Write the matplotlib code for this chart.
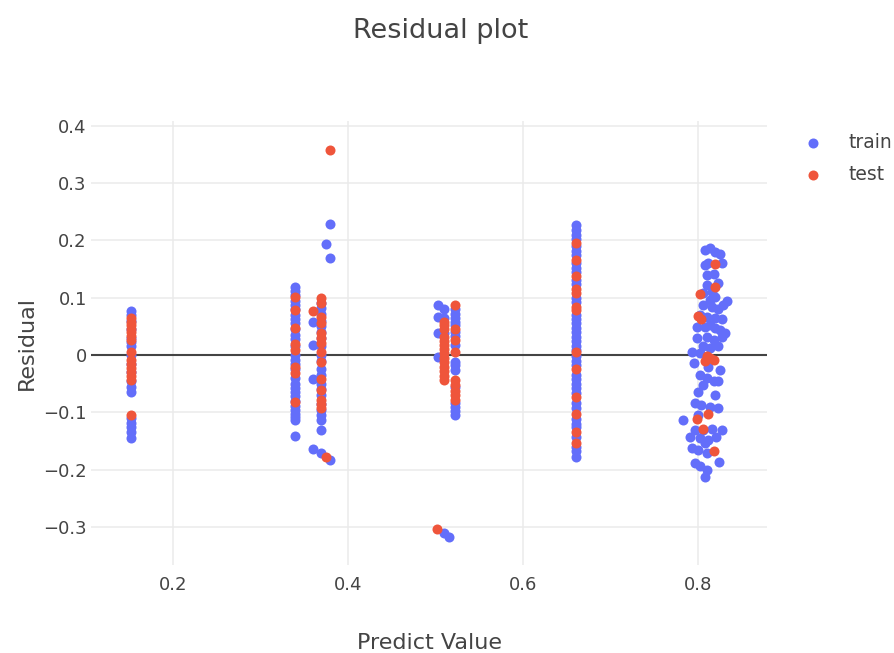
import matplotlib
matplotlib.use("Agg")
import matplotlib.pyplot as plt

# ---------------- data ----------------
# train residuals, grouped by predicted value
train_a_x = 0.152
train_a_y = [0.077, 0.070, 0.060, 0.045, 0.030, 0.022, 0.015, 0.000, -0.015, -0.030,
             -0.045, -0.055, -0.064, -0.110, -0.118, -0.126, -0.134, -0.145]
train_b1_x = 0.340
train_b1_y = [0.119, 0.112, 0.105, 0.095, 0.088, 0.080, 0.070, 0.062, 0.055, 0.045,
              0.035, 0.028, 0.015, 0.000, -0.008, -0.015, -0.025, -0.040, -0.050, -0.058,
              -0.065, -0.072, -0.080, -0.088, -0.095, -0.102, -0.108, -0.113, -0.141]
train_b2_x = 0.369
train_b2_y = [0.090, 0.082, 0.072, 0.060, 0.050, 0.040, 0.030, 0.015, 0.000, -0.010,
              -0.025, -0.035, -0.050, -0.060, -0.070, -0.085, -0.095, -0.105, -0.113,
              -0.131, -0.170]
train_misc_x = [0.360, 0.360, 0.360, 0.360, 0.380, 0.3745, 0.380, 0.380,
                0.503, 0.503, 0.503, 0.503, 0.510, 0.510, 0.510, 0.510, 0.515]
train_misc_y = [0.057, 0.017, -0.042, -0.163, 0.228, 0.193, 0.169, -0.183,
                0.087, 0.067, 0.038, -0.003, 0.081, 0.064, 0.038, -0.311, -0.317]
train_c_x = 0.522
train_c_y = [0.080, 0.072, 0.065, 0.058, 0.052, 0.040, 0.034, 0.018, -0.012, -0.018,
             -0.026, -0.055, -0.084, -0.090, -0.097, -0.105]
train_d_x = 0.661
train_d_y = [0.227, 0.218, 0.210, 0.202, 0.190, 0.182, 0.174, 0.160, 0.152, 0.145,
             0.130, 0.124, 0.100, 0.092, 0.070, 0.062, 0.055, 0.047, 0.040, 0.032,
             0.024, 0.016, 0.008, -0.002, -0.010, -0.018, -0.034, -0.042, -0.050,
             -0.058, -0.066, -0.084, -0.092, -0.112, -0.120, -0.126, -0.142, -0.160,
             -0.168, -0.177]
train_e_x = [0.808, 0.814, 0.819, 0.825, 0.808, 0.812, 0.827, 0.810, 0.818, 0.810,
             0.823, 0.806, 0.816, 0.819, 0.814, 0.833, 0.806, 0.816, 0.823, 0.829,
             0.802, 0.810, 0.819, 0.827, 0.799, 0.808, 0.814, 0.819, 0.825, 0.831,
             0.799, 0.810, 0.818, 0.827, 0.806, 0.814, 0.823, 0.793, 0.802, 0.795,
             0.812, 0.825, 0.802, 0.810, 0.818, 0.823, 0.806, 0.800, 0.819, 0.797,
             0.804, 0.814, 0.823, 0.783, 0.800, 0.797, 0.806, 0.816, 0.827, 0.791,
             0.802, 0.812, 0.821, 0.793, 0.808, 0.800, 0.810, 0.824, 0.797, 0.802,
             0.810, 0.808]
train_e_y = [0.183, 0.186, 0.180, 0.176, 0.157, 0.160, 0.161, 0.140, 0.142, 0.122,
             0.125, 0.108, 0.110, 0.102, 0.096, 0.095, 0.087, 0.084, 0.081, 0.087,
             0.070, 0.067, 0.064, 0.062, 0.049, 0.049, 0.052, 0.047, 0.044, 0.038,
             0.029, 0.032, 0.026, 0.032, 0.015, 0.012, 0.015, 0.006, 0.003, -0.014,
             -0.020, -0.026, -0.035, -0.040, -0.046, -0.046, -0.052, -0.064, -0.070,
             -0.084, -0.087, -0.090, -0.093, -0.114, -0.104, -0.131, -0.131, -0.129,
             -0.131, -0.142, -0.145, -0.148, -0.142, -0.162, -0.154, -0.165, -0.171,
             -0.186, -0.189, -0.194, -0.200, -0.212]

# test residuals
test_a_x = 0.152
test_a_y = [0.064, 0.058, 0.052, 0.046, 0.040, 0.034, 0.026, 0.005, -0.009, -0.015,
            -0.022, -0.029, -0.036, -0.044, -0.105]
test_b1_x = 0.340
test_b1_y = [0.102, 0.078, 0.048, 0.020, 0.009, -0.020, -0.032, -0.081]
test_b2_x = 0.369
test_b2_y = [0.100, 0.090, 0.067, 0.055, 0.039, 0.030, 0.021, 0.005, -0.012, -0.041,
             -0.061, -0.078, -0.085, -0.092]
test_misc_x = [0.360, 0.380, 0.3745, 0.502]
test_misc_y = [0.077, 0.357, -0.177, -0.304]
test_c1_x = 0.510
test_c1_y = [0.058, 0.052, 0.046, 0.032, 0.025, 0.018, 0.010, 0.003, -0.005, -0.012,
             -0.020, -0.028, -0.036, -0.044]
test_c2_x = 0.522
test_c2_y = [0.087, 0.046, 0.026, 0.006, -0.044, -0.052, -0.062, -0.070, -0.078]
test_d_x = 0.661
test_d_y = [0.196, 0.166, 0.137, 0.116, 0.108, 0.084, 0.078, 0.006, -0.024, -0.074,
            -0.103, -0.134, -0.153]
test_e_x = [0.819, 0.819, 0.802, 0.800, 0.804, 0.810, 0.814, 0.818, 0.808, 0.811,
            0.799, 0.806, 0.818]
test_e_y = [0.159, 0.118, 0.106, 0.068, 0.062, -0.002, -0.006, -0.008, -0.010, -0.102,
            -0.112, -0.129, -0.168]

x_ticks = [0.2, 0.4, 0.6, 0.8]
x_tick_labels = ["0.2", "0.4", "0.6", "0.8"]
y_ticks = [-0.3, -0.2, -0.1, 0.0, 0.1, 0.2, 0.3, 0.4]
y_tick_labels = ["\u22120.3", "\u22120.2", "\u22120.1", "0", "0.1", "0.2", "0.3", "0.4"]

# ------------- assemble -------------
train_x = ([train_a_x] * len(train_a_y) + [train_b1_x] * len(train_b1_y)
           + [train_b2_x] * len(train_b2_y) + train_misc_x
           + [train_c_x] * len(train_c_y) + [train_d_x] * len(train_d_y) + train_e_x)
train_y = train_a_y + train_b1_y + train_b2_y + train_misc_y + train_c_y + train_d_y + train_e_y

test_x = ([test_a_x] * len(test_a_y) + [test_b1_x] * len(test_b1_y)
          + [test_b2_x] * len(test_b2_y) + test_misc_x
          + [test_c1_x] * len(test_c1_y) + [test_c2_x] * len(test_c2_y)
          + [test_d_x] * len(test_d_y) + test_e_x)
test_y = test_a_y + test_b1_y + test_b2_y + test_misc_y + test_c1_y + test_c2_y + test_d_y + test_e_y

# ------------- plot -------------
plt.rcParams['font.family'] = ['DejaVu Sans']
TXT = '#444444'

fig = plt.figure(figsize=(8.95, 6.53), dpi=100)
W, H = 895, 653
L, R, T, B = 91, 767, 121, 565
ax = fig.add_axes([L / W, 1 - B / H, (R - L) / W, (B - T) / H])

ax.scatter(train_x, train_y, s=52, color='#636efa', linewidths=0, label='train', zorder=3)
ax.scatter(test_x, test_y, s=52, color='#ef553b', linewidths=0, label='test', zorder=4)

ax.set_xlim(0.1063, 0.879)
ax.set_ylim(-0.366, 0.408)

ax.axhline(0, color='#444444', lw=1.5, zorder=2)

ax.set_xticks(x_ticks)
ax.set_xticklabels(x_tick_labels)
ax.set_yticks(y_ticks)
ax.set_yticklabels(y_tick_labels)
ax.tick_params(length=0, labelsize=13, colors=TXT)
ax.tick_params(axis='x', pad=8)
ax.tick_params(axis='y', pad=3)
ax.grid(True, color='#ebebeb', lw=1.1, zorder=0)
ax.set_axisbelow(True)
for s in ax.spines.values():
    s.set_visible(False)

fig.text(430 / W, 1 - 643 / H, 'Predict Value', ha='center', va='center', fontsize=16, color=TXT)
fig.text(27 / W, 1 - 343 / H, 'Residual', ha='center', va='center', rotation=90, fontsize=16, color=TXT)
fig.text(441 / W, 1 - 31 / H, 'Residual plot', ha='center', va='center', fontsize=19.5, color=TXT)

leg = fig.legend(loc='upper left', bbox_to_anchor=(802 / W, 1 - 133 / H), frameon=False,
                 fontsize=13.5, handletextpad=1.3, labelspacing=0.7, borderpad=0,
                 borderaxespad=0, handlelength=1.2)
for t in leg.get_texts():
    t.set_color(TXT)

fig.savefig('out.png', dpi=100)
